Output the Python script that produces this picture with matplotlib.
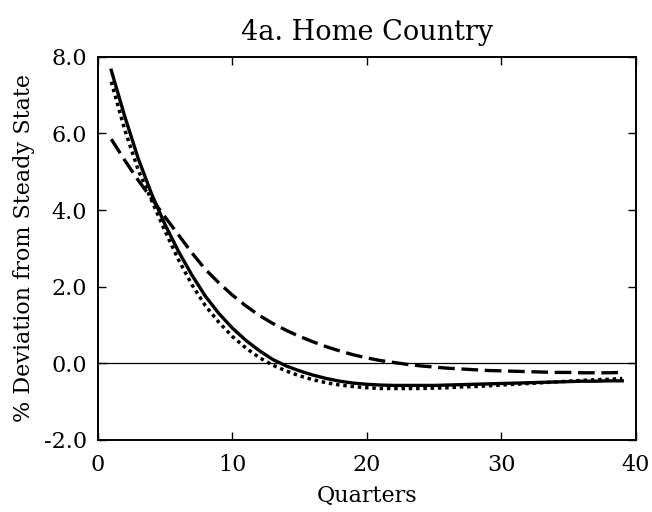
import matplotlib.pyplot as plt
import numpy as np

# quarters and responses
quarters = np.arange(1, 40)

solid = [7.65, 6.45, 5.35, 4.42, 3.62, 2.92, 2.3, 1.75, 1.3, 0.92,
         0.6, 0.33, 0.1, -0.07, -0.2, -0.31, -0.4, -0.47, -0.52, -0.55,
         -0.57, -0.58, -0.58, -0.58, -0.58, -0.57, -0.56, -0.55, -0.54, -0.53,
         -0.52, -0.51, -0.50, -0.49, -0.48, -0.47, -0.47, -0.46, -0.46]

dotted = [7.35, 6.1, 5.05, 4.25, 3.45, 2.7, 2.05, 1.5, 1.07, 0.7,
          0.4, 0.15, -0.05, -0.2, -0.33, -0.43, -0.51, -0.57, -0.61, -0.64,
          -0.66, -0.66, -0.66, -0.66, -0.65, -0.64, -0.62, -0.61, -0.59, -0.57,
          -0.55, -0.53, -0.51, -0.49, -0.47, -0.45, -0.43, -0.42, -0.40]

dashed = [5.85, 5.3, 4.78, 4.3, 3.82, 3.35, 2.88, 2.45, 2.1, 1.78,
          1.5, 1.25, 1.04, 0.86, 0.7, 0.56, 0.43, 0.32, 0.22, 0.14,
          0.07, 0.02, -0.03, -0.07, -0.1, -0.13, -0.15, -0.17, -0.19, -0.20,
          -0.21, -0.22, -0.23, -0.24, -0.24, -0.25, -0.25, -0.25, -0.24]

xticks = [0, 10, 20, 30, 40]
yticks = [-2, 0, 2, 4, 6, 8]

plt.rcParams['font.family'] = ['DejaVu Serif']

fig = plt.figure(figsize=(6.52, 5.12), dpi=100)
ax = fig.add_axes([0.150, 0.141, 0.825, 0.748])

ax.axhline(0, color='black', linewidth=0.9)
ax.plot(quarters, solid, color='black', linewidth=2.4, linestyle='-')
ax.plot(quarters, dotted, color='black', linewidth=2.5, linestyle=(0, (1, 1.1)))
ax.plot(quarters, dashed, color='black', linewidth=2.4, linestyle=(0, (5, 2)))

ax.set_xlim(0, 40)
ax.set_ylim(-2, 8)
ax.set_xticks(xticks)
ax.set_yticks(yticks)
ax.set_yticklabels([f'{v:.1f}' for v in yticks])
for s in ax.spines.values():
    s.set_linewidth(1.4)
ax.tick_params(direction='in', top=True, right=True, length=6, width=1,
               labelsize=16)
ax.tick_params(axis='x', pad=10)
ax.tick_params(axis='y', pad=8)

ax.set_xlabel('Quarters', fontsize=16, labelpad=7)
ax.set_ylabel('% Deviation from Steady State', fontsize=16, labelpad=6)
ax.set_title('4a. Home Country', fontsize=19.5, pad=12)

plt.savefig('out.png', dpi=100)
